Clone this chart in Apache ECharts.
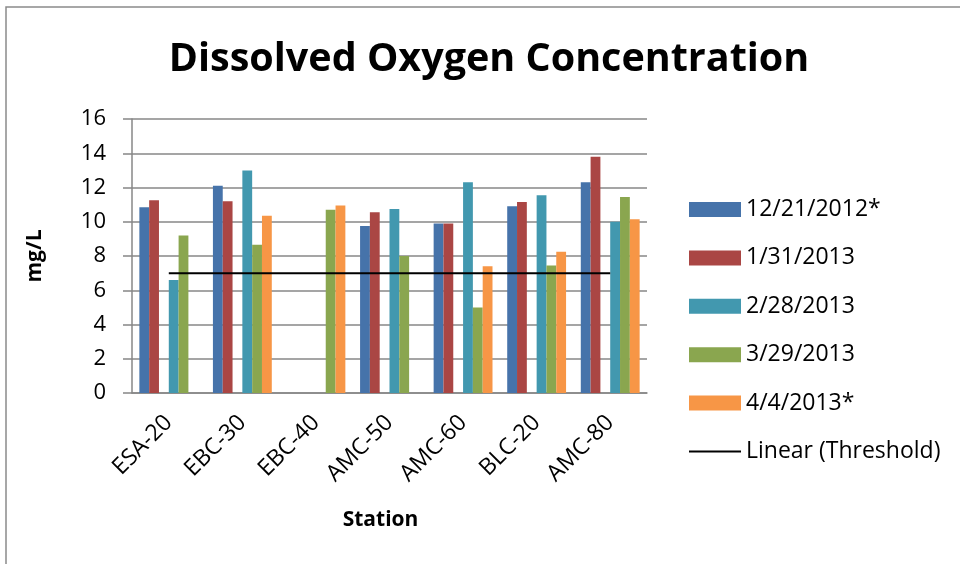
<!DOCTYPE html>
<html>
<head>
<meta charset="utf-8">
<script src="https://cdn.jsdelivr.net/npm/echarts@6/dist/echarts.min.js"></script>
<style>
  html, body { margin: 0; padding: 0; background: #fff; }
  #chart { width: 960px; height: 564px; }
</style>
</head>
<body>
<div id="chart"></div>
<script>
// Stations sampled along the x axis
const stations = ['ESA-20', 'EBC-30', 'EBC-40', 'AMC-50', 'AMC-60', 'BLC-20', 'AMC-80'];

// Dissolved oxygen (mg/L) per sampling date; null = not sampled
const dec21_2012 = [10.85, 12.1, null, 9.75, 9.9, 10.9, 12.3];
const jan31_2013 = [11.25, 11.2, null, 10.55, 9.9, 11.15, 13.8];
const feb28_2013 = [6.6, 13.0, null, 10.75, 12.3, 11.55, 10.0];
const mar29_2013 = [9.2, 8.65, 10.7, 8.0, 5.0, 7.45, 11.45];
const apr4_2013 = [null, 10.35, 10.95, null, 7.4, 8.25, 10.15];

// Regulatory threshold (mg/L): kept as a hidden bar series, shown as its linear trend line
const threshold = [7, 7, 7, 7, 7, 7, 7];

const dateNames = ['12/21/2012*', '1/31/2013', '2/28/2013', '3/29/2013', '4/4/2013*'];
const dateValues = [dec21_2012, jan31_2013, feb28_2013, mar29_2013, apr4_2013];
const colors = ['#4673AA', '#AA4644', '#4298AF', '#8AA64F', '#F79646'];

const FONT = "'Open Sans', 'Noto Sans', sans-serif";

const chart = echarts.init(document.getElementById('chart'), null, { renderer: 'canvas' });

function barSeries(name, data, color) {
  return {
    name: name,
    type: 'bar',
    data: data,
    barGap: '0%',
    barCategoryGap: '20%',
    itemStyle: { color: color },
    emphasis: { disabled: true }
  };
}

// Column order: two dates, the hidden threshold column, then the remaining three dates
const bars = [
  barSeries(dateNames[0], dateValues[0], colors[0]),
  barSeries(dateNames[1], dateValues[1], colors[1]),
  barSeries('Threshold', threshold, 'rgba(0,0,0,0)'),
  barSeries(dateNames[2], dateValues[2], colors[2]),
  barSeries(dateNames[3], dateValues[3], colors[3]),
  barSeries(dateNames[4], dateValues[4], colors[4])
];

chart.setOption({
  animation: false,
  backgroundColor: '#ffffff',
  title: {
    text: 'Dissolved Oxygen Concentration',
    left: 484,
    top: 35,
    textAlign: 'center',
    textStyle: { fontFamily: FONT, fontWeight: 'bold', fontSize: 39.5, color: '#000' }
  },
  graphic: [{
    type: 'rect',
    shape: { x: 6, y: 7, width: 1000, height: 1000 },
    style: { fill: 'none', stroke: '#8a8a8a', lineWidth: 1.5 },
    silent: true
  }],
  grid: { left: 132, top: 119, width: 515, height: 274, containLabel: false },
  legend: {
    orient: 'vertical',
    left: 689,
    top: 198,
    padding: 0,
    itemWidth: 52,
    itemHeight: 15,
    itemGap: 25.4,
    textStyle: { fontFamily: FONT, fontSize: 23, color: '#000' },
    data: dateNames.map(n => ({ name: n, icon: 'rect' })).concat([
      { name: 'Linear (Threshold)', icon: 'path://M0,0H52V2H0Z' }
    ])
  },
  xAxis: {
    type: 'category',
    data: stations,
    name: 'Station',
    nameLocation: 'middle',
    nameGap: 117,
    nameTextStyle: { fontFamily: FONT, fontWeight: 'bold', fontSize: 21, color: '#000', padding: [0, 18, 0, 0] },
    axisLine: { lineStyle: { color: '#878787', width: 1.5 } },
    axisTick: { show: false },
    axisLabel: { rotate: 45, margin: 26, fontFamily: FONT, fontSize: 23, color: '#000', interval: 0 }
  },
  yAxis: {
    type: 'value',
    min: 0,
    max: 16,
    interval: 2,
    name: 'mg/L',
    nameLocation: 'middle',
    nameGap: 86,
    nameTextStyle: { fontFamily: FONT, fontWeight: 'bold', fontSize: 21, color: '#000' },
    axisLine: { show: true, lineStyle: { color: '#878787', width: 1.5 } },
    axisTick: { show: true, length: 9, inside: false, lineStyle: { color: '#878787', width: 1.5 } },
    axisLabel: { margin: 26, fontFamily: FONT, fontSize: 22, color: '#000' },
    splitLine: { show: true, lineStyle: { color: '#878787', width: 1.5 } }
  },
  series: bars.concat([{
    name: 'Linear (Threshold)',
    type: 'line',
    data: threshold,
    symbol: 'none',
    lineStyle: { color: '#000', width: 2 },
    itemStyle: { color: '#000' },
    z: 5,
    emphasis: { disabled: true }
  }])
});
</script>
</body>
</html>
